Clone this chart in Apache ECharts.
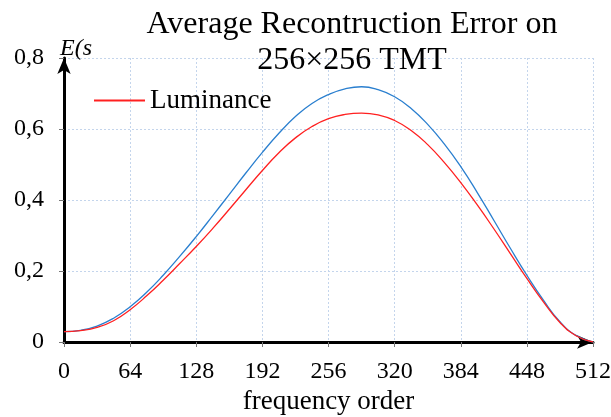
<!DOCTYPE html>
<html lang="en">
<head>
<meta charset="UTF-8" />
<title>Average Recontruction Error</title>
<script src="https://cdn.jsdelivr.net/npm/echarts@6/dist/echarts.min.js"></script>
<style>
  * { margin: 0; padding: 0; }
  html, body { width: 611px; height: 417px; background: #fff; }
</style>
</head>
<body>
<div id="main" style="width:611px;height:417px;"></div>
<script type="text/javascript">
// frequency order (x) and the two error curves
var freqOrder = [0, 16, 32, 48, 64, 80, 96, 112, 128, 144, 160, 176, 192, 208, 224, 240, 256,
                 272, 288, 304, 320, 336, 352, 368, 384, 400, 416, 432, 448, 464, 480, 496, 512];
var blueErr = [0.029, 0.033, 0.045, 0.067, 0.099, 0.140, 0.188, 0.241, 0.297, 0.356, 0.416, 0.476, 0.534, 0.588, 0.635, 0.672, 0.697,
               0.713, 0.719, 0.711, 0.691, 0.658, 0.613, 0.558, 0.494, 0.421, 0.343, 0.264, 0.188, 0.118, 0.057, 0.018, 0.0];
var lumErr = [0.029, 0.032, 0.041, 0.060, 0.091, 0.130, 0.174, 0.221, 0.269, 0.320, 0.374, 0.429, 0.483, 0.533, 0.575, 0.607, 0.629,
              0.641, 0.645, 0.640, 0.624, 0.596, 0.556, 0.506, 0.449, 0.386, 0.319, 0.249, 0.179, 0.113, 0.055, 0.017, 0.0];
var xTicks = [0, 64, 128, 192, 256, 320, 384, 448, 512];
var yTicks = [0, 0.2, 0.4, 0.6, 0.8];

function pairs(xs, ys) {
  var out = [];
  for (var i = 0; i < xs.length; i++) out.push([xs[i], ys[i]]);
  return out;
}

var serif = "'Liberation Serif', 'DejaVu Serif', serif";
var gridLine = { show: true, lineStyle: { color: "#c4d5ec", type: [2, 2], width: 1 } };

var myChart = echarts.init(document.getElementById("main"));
var option = {
  animation: false,
  title: {
    text: "Average Recontruction Error on\n256×256 TMT",
    left: 347,
    textAlign: "center",
    top: 2,
    textStyle: { fontFamily: serif, fontSize: 32, fontWeight: "normal", color: "#000", lineHeight: 36 }
  },
  legend: {
    data: ["Luminance"],
    left: 89,
    top: 82,
    itemWidth: 51,
    itemHeight: 2,
    itemGap: 6,
    icon: "rect",
    textStyle: { fontFamily: serif, fontSize: 27, color: "#000" }
  },
  grid: { left: 64, right: 18, top: 58, bottom: 75, outerBoundsMode: "none", containLabel: false },
  xAxis: {
    type: "value",
    min: xTicks[0],
    max: xTicks[xTicks.length - 1],
    interval: 64,
    name: "frequency order",
    nameLocation: "middle",
    nameGap: 45,
    nameTextStyle: { fontFamily: serif, fontSize: 27, color: "#000" },
    axisLine: { show: true, symbol: ["none", "arrow"], symbolSize: [10, 16], lineStyle: { color: "#000", width: 3 } },
    axisTick: { show: true, length: 5, lineStyle: { color: "#777" } },
    axisLabel: { fontFamily: serif, fontSize: 24, color: "#000", margin: 18 },
    splitLine: gridLine
  },
  yAxis: {
    type: "value",
    min: yTicks[0],
    max: yTicks[yTicks.length - 1],
    interval: 0.2,
    name: "E(s",
    nameLocation: "end",
    nameGap: -3,
    nameTextStyle: { fontFamily: serif, fontSize: 24, fontStyle: "italic", color: "#000", align: "left", padding: [0, 0, 0, -4] },
    axisLine: { show: true, symbol: ["none", "arrow"], symbolSize: [10, 16], lineStyle: { color: "#000", width: 3 } },
    axisTick: { show: true, length: 5, lineStyle: { color: "#777" } },
    axisLabel: {
      fontFamily: serif, fontSize: 24, color: "#000", margin: 20,
      formatter: function (v) { return String(Math.round(v * 10) / 10).replace(".", ","); }
    },
    splitLine: gridLine
  },
  series: [
    {
      name: "Chrominance",
      type: "line",
      smooth: 0.5,
      symbol: "none",
      data: pairs(freqOrder, blueErr),
      lineStyle: { color: "#2a7fcf", width: 1.3 },
      itemStyle: { color: "#2a7fcf" },
      z: 3
    },
    {
      name: "Luminance",
      type: "line",
      smooth: 0.5,
      symbol: "none",
      data: pairs(freqOrder, lumErr),
      lineStyle: { color: "#ff2020", width: 1.3 },
      itemStyle: { color: "#ff2020" },
      z: 4
    }
  ]
};
myChart.setOption(option);
</script>
</body>
</html>
